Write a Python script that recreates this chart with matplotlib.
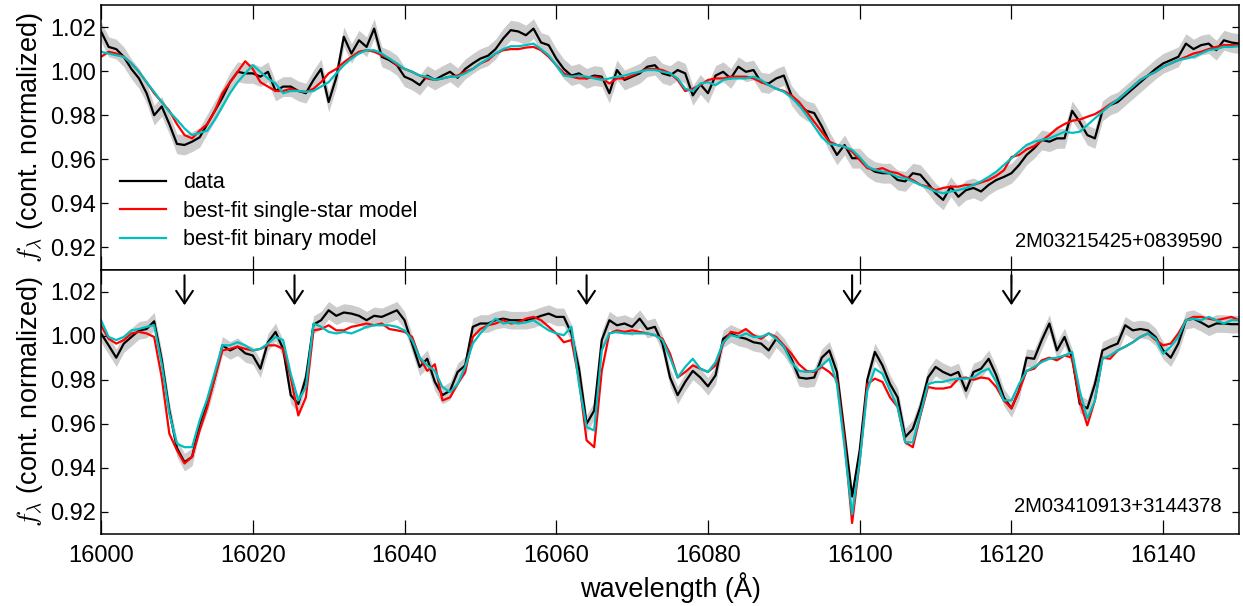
import matplotlib
matplotlib.use("Agg")
import matplotlib.pyplot as plt
import numpy as np

plt.rcParams['font.family'] = ['Liberation Sans', 'DejaVu Sans']
plt.rcParams['mathtext.fontset'] = 'cm'

# wavelength grid (Angstrom), 1 A steps
wave = np.arange(16000, 16151)

# --- top star: 2M03215425+0839590 ---
top_name = "2M03215425+0839590"
top_data = [
    1.018, 1.011, 1.010, 1.0065, 1.001, 0.9967, 0.990, 0.980, 0.984, 0.976,
    0.967, 0.9665, 0.968, 0.970, 0.976, 0.982, 0.988, 0.995, 0.9997, 0.999,
    0.999, 0.9975, 0.9997, 0.991, 0.993, 0.993, 0.991, 0.990, 0.996, 1.001,
    0.986, 0.997, 1.0156, 1.008, 1.014, 1.011, 1.0193, 1.0065, 1.005, 1.0027,
    0.9975, 0.996, 0.9937, 0.998, 0.996, 0.998, 0.9997, 0.997, 1.001, 1.0035,
    1.0057, 1.007, 1.010, 1.0148, 1.0186, 1.018, 1.0163, 1.0193, 1.013, 1.0118,
    1.0057, 1.001, 0.998, 0.999, 0.9967, 0.998, 0.9975, 0.990, 1.0005, 0.996,
    0.9975, 0.999, 1.002, 1.0027, 0.999, 0.998, 1.0005, 0.999, 0.989, 0.994,
    0.990, 0.998, 0.9997, 0.9967, 1.002, 0.9997, 1.0005, 0.995, 0.9944, 0.9967,
    0.998, 0.989, 0.9846, 0.982, 0.981, 0.975, 0.968, 0.962, 0.9665, 0.9605,
    0.9605, 0.9567, 0.9544, 0.9537, 0.9537, 0.9506, 0.950, 0.9537, 0.953, 0.949,
    0.9446, 0.9416, 0.9476, 0.943, 0.946, 0.947, 0.9454, 0.9484, 0.9506, 0.952,
    0.9537, 0.9574, 0.962, 0.965, 0.9688, 0.968, 0.9695, 0.9695, 0.982, 0.977,
    0.971, 0.9695, 0.982, 0.9846, 0.986, 0.989, 0.992, 0.995, 0.998, 1.001,
    1.0035, 1.005, 1.0065, 1.0125, 1.010, 1.0118, 1.0125, 1.0095, 1.014, 1.013,
    1.0125]
top_single = [
    1.0065, 1.0088, 1.008, 1.0065, 1.0035, 0.9997, 0.995, 0.990, 0.986, 0.982,
    0.976, 0.971, 0.9695, 0.973, 0.976, 0.982, 0.990, 0.995, 0.9997, 1.0045,
    1.001, 0.995, 0.993, 0.991, 0.991, 0.992, 0.991, 0.9906, 0.992, 0.995,
    0.999, 1.001, 1.004, 1.0065, 1.0088, 1.0095, 1.0088, 1.0072, 1.0057, 1.0027,
    1.001, 0.9997, 0.998, 0.9967, 0.996, 0.9967, 0.9975, 0.998, 0.9997, 1.001,
    1.0035, 1.005, 1.008, 1.0095, 1.010, 1.010, 1.0107, 1.011, 1.0095, 1.0065,
    1.0027, 0.999, 0.9975, 0.9967, 0.9967, 0.9975, 0.9967, 0.9944, 0.9967, 0.9967,
    0.998, 0.9997, 1.001, 1.001, 1.0005, 0.999, 0.996, 0.991, 0.992, 0.9937,
    0.996, 0.9967, 0.9967, 0.9975, 0.9975, 0.9975, 0.9967, 0.995, 0.9937, 0.992,
    0.991, 0.989, 0.986, 0.9816, 0.977, 0.9725, 0.968, 0.9665, 0.9657, 0.9635,
    0.9597, 0.956, 0.9552, 0.956, 0.9544, 0.9537, 0.952, 0.9506, 0.9484, 0.9476,
    0.946, 0.947, 0.9476, 0.9476, 0.9484, 0.9484, 0.9495, 0.9506, 0.9525, 0.955,
    0.961, 0.962, 0.9645, 0.966, 0.9685, 0.971, 0.974, 0.976, 0.9775, 0.978,
    0.9793, 0.9805, 0.9825, 0.985, 0.987, 0.990, 0.993, 0.996, 0.998, 0.9997,
    1.002, 1.0035, 1.005, 1.0065, 1.008, 1.0088, 1.010, 1.011, 1.0118, 1.0118,
    1.0118]
top_binary = [
    1.0088, 1.008, 1.0072, 1.0065, 1.0035, 0.9997, 0.995, 0.9906, 0.986, 0.9816,
    0.978, 0.974, 0.971, 0.972, 0.973, 0.978, 0.984, 0.990, 0.995, 0.999,
    1.0027, 0.9997, 0.9967, 0.9944, 0.990, 0.991, 0.991, 0.9906, 0.991, 0.993,
    0.995, 0.999, 1.0027, 1.0057, 1.008, 1.0095, 1.0095, 1.008, 1.0057, 1.0035,
    1.001, 0.9997, 0.998, 0.9975, 0.996, 0.9967, 0.9975, 0.9975, 0.999, 1.001,
    1.0035, 1.0057, 1.008, 1.010, 1.0113, 1.0113, 1.0118, 1.0125, 1.010, 1.0072,
    1.0027, 0.998, 0.9975, 0.998, 0.9975, 0.9967, 0.996, 0.9967, 0.9975, 0.998,
    0.999, 0.9997, 1.0005, 1.0005, 0.9997, 0.999, 0.9967, 0.992, 0.991, 0.9944,
    0.995, 0.9937, 0.996, 0.9967, 0.9967, 0.9967, 0.9975, 0.996, 0.9937, 0.992,
    0.9906, 0.988, 0.9846, 0.980, 0.975, 0.970, 0.967, 0.9665, 0.9657, 0.9643,
    0.961, 0.9567, 0.9552, 0.9544, 0.9537, 0.952, 0.9514, 0.950, 0.9484, 0.947,
    0.9454, 0.9446, 0.9454, 0.946, 0.947, 0.9484, 0.950, 0.952, 0.9544, 0.9574,
    0.9605, 0.9635, 0.9665, 0.968, 0.9688, 0.9695, 0.971, 0.9725, 0.972, 0.9725,
    0.9755, 0.9786, 0.9816, 0.9846, 0.987, 0.990, 0.993, 0.996, 0.998, 0.9997,
    1.002, 1.0035, 1.005, 1.0057, 1.0065, 1.008, 1.0095, 1.010, 1.011, 1.011,
    1.0113]
top_err = 0.0045

# --- bottom star: 2M03410913+3144378 ---
bot_name = "2M03410913+3144378"
bot_data = [
    1.001, 0.9956, 0.990, 0.9964, 0.9994, 1.0024, 1.003, 1.0065, 0.989, 0.966,
    0.949, 0.9426, 0.945, 0.960, 0.969, 0.981, 0.9956, 0.9933, 0.995, 0.992,
    0.991, 0.985, 0.997, 1.0017, 0.994, 0.973, 0.969, 0.981, 1.005, 1.007,
    1.0115, 1.009, 1.0105, 1.010, 1.009, 1.007, 1.009, 1.0085, 1.010, 1.0115,
    1.007, 0.9964, 0.9858, 0.9895, 0.979, 0.973, 0.975, 0.9835, 0.9865, 1.004,
    1.0055, 1.0055, 1.007, 1.0077, 1.007, 1.007, 1.007, 1.0077, 1.009, 1.010,
    1.0085, 1.0085, 1.001, 0.985, 0.960, 0.966, 0.998, 1.007, 1.0047, 1.0055,
    1.004, 1.0077, 1.003, 1.004, 0.9964, 0.981, 0.973, 0.979, 0.984, 0.981,
    0.977, 0.982, 0.9986, 1.001, 0.9994, 0.9986, 0.997, 0.9964, 0.9933, 0.9986,
    0.995, 0.9895, 0.981, 0.9805, 0.981, 0.990, 0.9933, 0.9835, 0.9555, 0.927,
    0.948, 0.980, 0.9926, 0.9865, 0.978, 0.972, 0.954, 0.9577, 0.9676, 0.981,
    0.9858, 0.9835, 0.982, 0.9835, 0.975, 0.9835, 0.985, 0.9895, 0.982, 0.972,
    0.967, 0.975, 0.990, 0.9895, 0.998, 1.0055, 0.9933, 0.9994, 0.990, 0.969,
    0.967, 0.978, 0.9933, 0.995, 0.9964, 1.0047, 1.0024, 1.003, 1.0024, 0.9994,
    0.9933, 0.990, 0.9964, 1.007, 1.0077, 1.006, 1.004, 1.0055, 1.0055, 1.0052,
    1.0052]
bot_single = [
    1.0047, 0.9986, 0.9964, 0.998, 1.001, 1.0017, 1.001, 0.9994, 0.981, 0.9555,
    0.948, 0.942, 0.945, 0.957, 0.9676, 0.981, 0.9933, 0.994, 0.995, 0.994,
    0.9933, 0.994, 0.9956, 0.9956, 0.994, 0.981, 0.9638, 0.972, 1.0024, 1.003,
    1.0047, 1.0024, 1.0024, 1.004, 1.0047, 1.0055, 1.0047, 1.0055, 1.003, 1.0024,
    1.0017, 0.9994, 0.990, 0.984, 0.987, 0.9706, 0.972, 0.978, 0.9835, 0.9994,
    1.003, 1.0047, 1.0055, 1.007, 1.0055, 1.006, 1.0077, 1.0085, 1.007, 1.004,
    1.001, 0.997, 0.998, 0.980, 0.9525, 0.9494, 0.984, 1.001, 1.0024, 1.0017,
    1.0024, 1.0017, 1.001, 1.0002, 0.9986, 0.9918, 0.981, 0.9835, 0.9865, 0.985,
    0.9835, 0.9865, 0.9964, 1.0017, 1.001, 1.003, 1.0002, 0.9986, 1.001, 0.9994,
    0.9956, 0.9918, 0.987, 0.984, 0.9835, 0.9858, 0.9835, 0.980, 0.9525, 0.915,
    0.943, 0.978, 0.9805, 0.979, 0.972, 0.9676, 0.9516, 0.9494, 0.9638, 0.9767,
    0.976, 0.976, 0.9767, 0.9805, 0.981, 0.980, 0.981, 0.9805, 0.9767, 0.9706,
    0.967, 0.975, 0.984, 0.985, 0.9888, 0.990, 0.9888, 0.991, 0.990, 0.9706,
    0.9593, 0.9706, 0.990, 0.9895, 0.9933, 0.995, 0.997, 0.9994, 1.001, 0.998,
    0.9956, 0.9964, 1.001, 1.007, 1.0085, 1.0085, 1.0077, 1.007, 1.0077, 1.0085,
    1.007]
bot_binary = [
    1.007, 0.9994, 0.998, 0.9994, 1.0024, 1.003, 1.004, 1.0047, 0.987, 0.9645,
    0.951, 0.9494, 0.9494, 0.9615, 0.9714, 0.9835, 0.9956, 0.9956, 0.997, 0.9956,
    0.9933, 0.994, 0.9964, 0.9994, 0.998, 0.9827, 0.9706, 0.9767, 1.0055, 1.004,
    1.0017, 1.001, 1.0017, 1.001, 1.0024, 1.004, 1.0047, 1.0047, 1.0047, 1.004,
    1.0024, 0.998, 0.990, 0.9865, 0.984, 0.9767, 0.9744, 0.978, 0.9858, 0.9964,
    1.001, 1.0047, 1.0077, 1.0055, 1.006, 1.0055, 1.006, 1.007, 1.0047, 1.0024,
    1.001, 1.0002, 1.004, 0.978, 0.9585, 0.957, 0.9933, 1.001, 1.0017, 1.001,
    1.001, 1.001, 1.001, 1.0002, 0.998, 0.990, 0.981, 0.9858, 0.9895, 0.985,
    0.9835, 0.988, 0.997, 1.0002, 0.9994, 1.001, 0.9994, 0.9994, 1.001, 0.9986,
    0.995, 0.988, 0.984, 0.9835, 0.984, 0.9865, 0.9895, 0.978, 0.9494, 0.919,
    0.943, 0.975, 0.985, 0.9827, 0.975, 0.9676, 0.9516, 0.9516, 0.9645, 0.978,
    0.979, 0.979, 0.980, 0.9805, 0.9805, 0.981, 0.9835, 0.985, 0.979, 0.9706,
    0.9706, 0.978, 0.984, 0.9858, 0.988, 0.9895, 0.990, 0.991, 0.9926, 0.975,
    0.9623, 0.9706, 0.9895, 0.991, 0.9933, 0.995, 0.997, 0.9994, 1.001, 0.9986,
    0.9918, 0.995, 0.9994, 1.007, 1.0077, 1.007, 1.0085, 1.007, 1.0055, 1.007,
    1.007]
bot_err = 0.004

# marked lines in the lower panel
arrow_waves = [16011, 16025.5, 16064, 16099, 16120]

fig, (ax1, ax2) = plt.subplots(2, 1, figsize=(12.43, 6.06), dpi=100, sharex=True)
fig.subplots_adjust(left=0.0813, right=0.9968, top=0.9917, bottom=0.1188, hspace=0)

panels = [(ax1, top_data, top_single, top_binary, top_err, top_name),
          (ax2, bot_data, bot_single, bot_binary, bot_err, bot_name)]
for ax, dat, single, binary, err, name in panels:
    dat = np.array(dat)
    ax.fill_between(wave, dat - err, dat + err, color='0.8', lw=0)
    ax.plot(wave, dat, color='k', lw=1.6, label='data')
    ax.plot(wave, single, color='r', lw=1.6, label='best-fit single-star model')
    ax.plot(wave, binary, color='c', lw=1.6, label='best-fit binary model')
    ax.set_xlim(16000, 16150)
    ax.set_ylim(0.91, 1.03)
    ax.set_yticks([0.92, 0.94, 0.96, 0.98, 1.00, 1.02])
    ax.set_yticklabels(['0.92', '0.94', '0.96', '0.98', '1.00', '1.02'])
    ax.set_ylabel(r'$f_\lambda$ (cont. normalized)', fontsize=19.5)
    ax.tick_params(axis='both', which='major', direction='in', top=True, right=True,
                   labelsize=17, width=0.9)
    ax.tick_params(axis='x', length=10, pad=8)
    ax.tick_params(axis='y', length=5)
    for sp in ax.spines.values():
        sp.set_linewidth(1.1)
    ax.text(0.985, 0.105, name, transform=ax.transAxes, ha='right', va='center',
            fontsize=14.5)

ax1.tick_params(labelbottom=False)
ax1.legend(loc='lower left', frameon=False, fontsize=15.5, handlelength=2.1,
           handletextpad=0.8, labelspacing=0.35)

for w in arrow_waves:
    ax2.annotate('', xy=(w, 1.0138), xytext=(w, 1.0274),
                 arrowprops=dict(arrowstyle='->,head_length=0.45,head_width=0.3',
                                 mutation_scale=20, lw=1.5, color='k',
                                 shrinkA=0, shrinkB=0))

ax2.set_xticks(np.arange(16000, 16150, 20))
ax2.set_xlabel('wavelength (Å)', fontsize=19.5)

fig.savefig('out.png', dpi=100)
